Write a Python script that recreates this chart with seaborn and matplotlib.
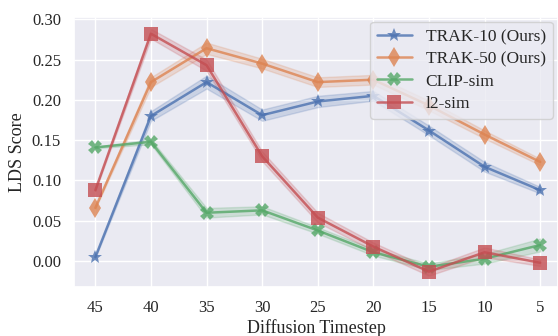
import numpy as np
import pandas as pd
import seaborn as sns
import matplotlib.pyplot as plt

timesteps = [45, 40, 35, 30, 25, 20, 15, 10, 5]
methods = ["TRAK-10 (Ours)", "TRAK-50 (Ours)", "CLIP-sim", "l2-sim"]

trak10 = [0.005, 0.180, 0.222, 0.181, 0.198, 0.205, 0.162, 0.117, 0.088]
trak50 = [0.066, 0.222, 0.264, 0.245, 0.222, 0.225, 0.193, 0.157, 0.123]
clip_sim = [0.141, 0.148, 0.060, 0.063, 0.038, 0.011, -0.007, 0.003, 0.020]
l2_sim = [0.088, 0.282, 0.243, 0.130, 0.054, 0.018, -0.013, 0.011, -0.002]

# half-width of the shaded band around each point
trak10_band = [0.001, 0.006, 0.008, 0.007, 0.007, 0.006, 0.006, 0.006, 0.004]
trak50_band = [0.001, 0.006, 0.007, 0.006, 0.006, 0.006, 0.006, 0.005, 0.004]
clip_band = [0.001, 0.003, 0.006, 0.005, 0.004, 0.004, 0.004, 0.006, 0.008]
l2_band = [0.001, 0.006, 0.007, 0.006, 0.006, 0.005, 0.005, 0.006, 0.004]

series = {
    methods[0]: (trak10, trak10_band),
    methods[1]: (trak50, trak50_band),
    methods[2]: (clip_sim, clip_band),
    methods[3]: (l2_sim, l2_band),
}

rows = []
for name, (vals, band) in series.items():
    for t, v, b in zip(timesteps, vals, band):
        for off in (-b, 0.0, b):
            rows.append({"Diffusion Timestep": t, "LDS Score": v + off, "Method": name})
df = pd.DataFrame(rows)

sns.set_theme(style="darkgrid", palette="deep")
plt.rcParams["font.family"] = ["Liberation Serif", "DejaVu Serif"]

fig, ax = plt.subplots(figsize=(5.58, 3.36), dpi=100)
sns.lineplot(
    data=df, x="Diffusion Timestep", y="LDS Score", hue="Method", style="Method",
    hue_order=methods, style_order=methods,
    markers=["*", "d", "X", "s"], dashes=False, markersize=10,
    markeredgewidth=0, linewidth=1.8, alpha=0.8,
    errorbar=("pi", 100), err_kws={"alpha": 0.2}, ax=ax,
)

ax.set_xlim(46.9, 3.4)
ax.set_ylim(-0.032, 0.303)
ax.set_xticks(timesteps)
yticks = [0.0, 0.05, 0.10, 0.15, 0.20, 0.25, 0.30]
ax.set_yticks(yticks)
ax.set_yticklabels([f"{v:.2f}" for v in yticks])
ax.tick_params(labelsize=12)
ax.set_xlabel("Diffusion Timestep", fontsize=13, labelpad=2)
ax.set_ylabel("LDS Score", fontsize=13)
ax.legend(loc="upper right", fontsize=12.5, handlelength=2.0,
          labelspacing=0.35, borderaxespad=0.3, handletextpad=0.8)

plt.subplots_adjust(left=0.133, right=1.0, top=0.95, bottom=0.146)
plt.savefig("out.png", dpi=100)
